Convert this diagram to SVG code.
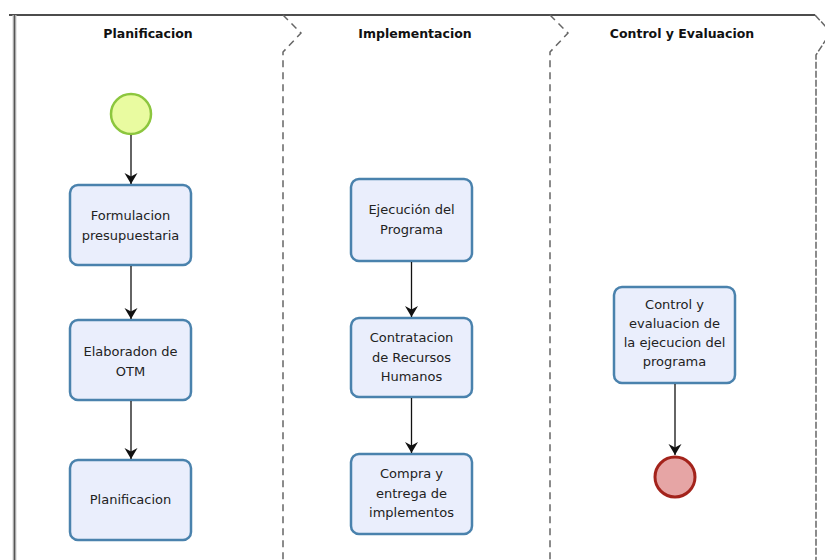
<svg xmlns="http://www.w3.org/2000/svg" width="825" height="560" viewBox="0 0 825 560">
  <defs>
    <marker id="arrow" markerWidth="12" markerHeight="14" refX="11" refY="7" orient="auto" markerUnits="userSpaceOnUse">
      <path d="M0,0.5 L11,7 L0,13.5 L3.5,7 Z" fill="#111"/>
    </marker>
    <style>
      .lane-title { font-family: "DejaVu Sans", Verdana, sans-serif; font-weight: bold; font-size: 12.5px; fill: #111; text-anchor: middle; }
      .task rect { fill: #eaeefc; stroke: #4a82ad; stroke-width: 2.5; }
      .task text { font-family: "DejaVu Sans", Verdana, sans-serif; font-size: 13px; fill: #222; text-anchor: middle; }
      .divider { fill: none; stroke: #666; stroke-width: 1.5; stroke-dasharray: 7 5; }
      .edge { fill: none; stroke: #111; stroke-width: 1.3; marker-end: url(#arrow); }
    </style>
  </defs>
  <rect width="825" height="560" fill="#ffffff"/>

  <!-- pool frame -->
  <g id="pool">
    <line x1="9" y1="15" x2="815" y2="15" stroke="#111" stroke-width="1.5"/>
    <line x1="14.5" y1="15" x2="14.5" y2="560" stroke="#cfcfcf" stroke-width="4"/>
    <line x1="14.5" y1="15" x2="14.5" y2="560" stroke="#555" stroke-width="1.6"/>
    <path class="divider" d="M283,15 L301,33 L283,52 L283,560"/>
    <path class="divider" d="M550,15 L568,33 L550,52 L550,560"/>
    <path d="M815,15 L827,28 M827,38 L816,55 L816,560" fill="none" stroke="#666" stroke-width="1.5" stroke-dasharray="7 2"/>
    <text class="lane-title" x="148" y="38">Planificacion</text>
    <text class="lane-title" x="415" y="38">Implementacion</text>
    <text class="lane-title" x="682" y="38">Control y Evaluacion</text>
  </g>

  <!-- events -->
  <g id="start">
    <circle cx="131" cy="114" r="20" fill="#e9fba0" stroke="#8cc63e" stroke-width="2.5"/>
  </g>
  <g id="end">
    <circle cx="675" cy="477" r="20" fill="#e6a5a5" stroke="#a3231b" stroke-width="3"/>
  </g>

  <!-- tasks: Planificacion lane -->
  <g id="formulacion" class="task">
    <rect x="70" y="185" width="121" height="80" rx="8"/>
    <text x="130.5" y="220">Formulacion</text>
    <text x="130.5" y="240">presupuestaria</text>
  </g>
  <g id="elaboracion" class="task">
    <rect x="70" y="320" width="121" height="80" rx="8"/>
    <text x="130.5" y="356">Elaboradon de</text>
    <text x="130.5" y="376">OTM</text>
  </g>
  <g id="planificacion" class="task">
    <rect x="70" y="460" width="121" height="80" rx="8"/>
    <text x="130.5" y="504">Planificacion</text>
  </g>

  <!-- tasks: Implementacion lane -->
  <g id="ejecucion" class="task">
    <rect x="351" y="179" width="121" height="82" rx="8"/>
    <text x="411.5" y="214">Ejecución del</text>
    <text x="411.5" y="234">Programa</text>
  </g>
  <g id="contratacion" class="task">
    <rect x="351" y="318" width="121" height="79" rx="8"/>
    <text x="411.5" y="342">Contratacion</text>
    <text x="411.5" y="362">de Recursos</text>
    <text x="411.5" y="381">Humanos</text>
  </g>
  <g id="compra" class="task">
    <rect x="351" y="454" width="121" height="80" rx="8"/>
    <text x="411.5" y="478">Compra y</text>
    <text x="411.5" y="498">entrega de</text>
    <text x="411.5" y="517">implementos</text>
  </g>

  <!-- tasks: Control y Evaluacion lane -->
  <g id="control" class="task">
    <rect x="614" y="287" width="121" height="96" rx="8"/>
    <text x="674.5" y="309">Control y</text>
    <text x="674.5" y="328">evaluacion de</text>
    <text x="674.5" y="347">la ejecucion del</text>
    <text x="674.5" y="366">programa</text>
  </g>

  <!-- sequence flows -->
  <g id="connectors">
    <line class="edge" x1="131" y1="135" x2="131" y2="184"/>
    <line class="edge" x1="131" y1="266" x2="131" y2="319"/>
    <line class="edge" x1="131" y1="401" x2="131" y2="459"/>
    <line class="edge" x1="411.5" y1="262" x2="411.5" y2="317"/>
    <line class="edge" x1="411.5" y1="398" x2="411.5" y2="453"/>
    <line class="edge" x1="675" y1="384" x2="675" y2="455"/>
  </g>
</svg>
